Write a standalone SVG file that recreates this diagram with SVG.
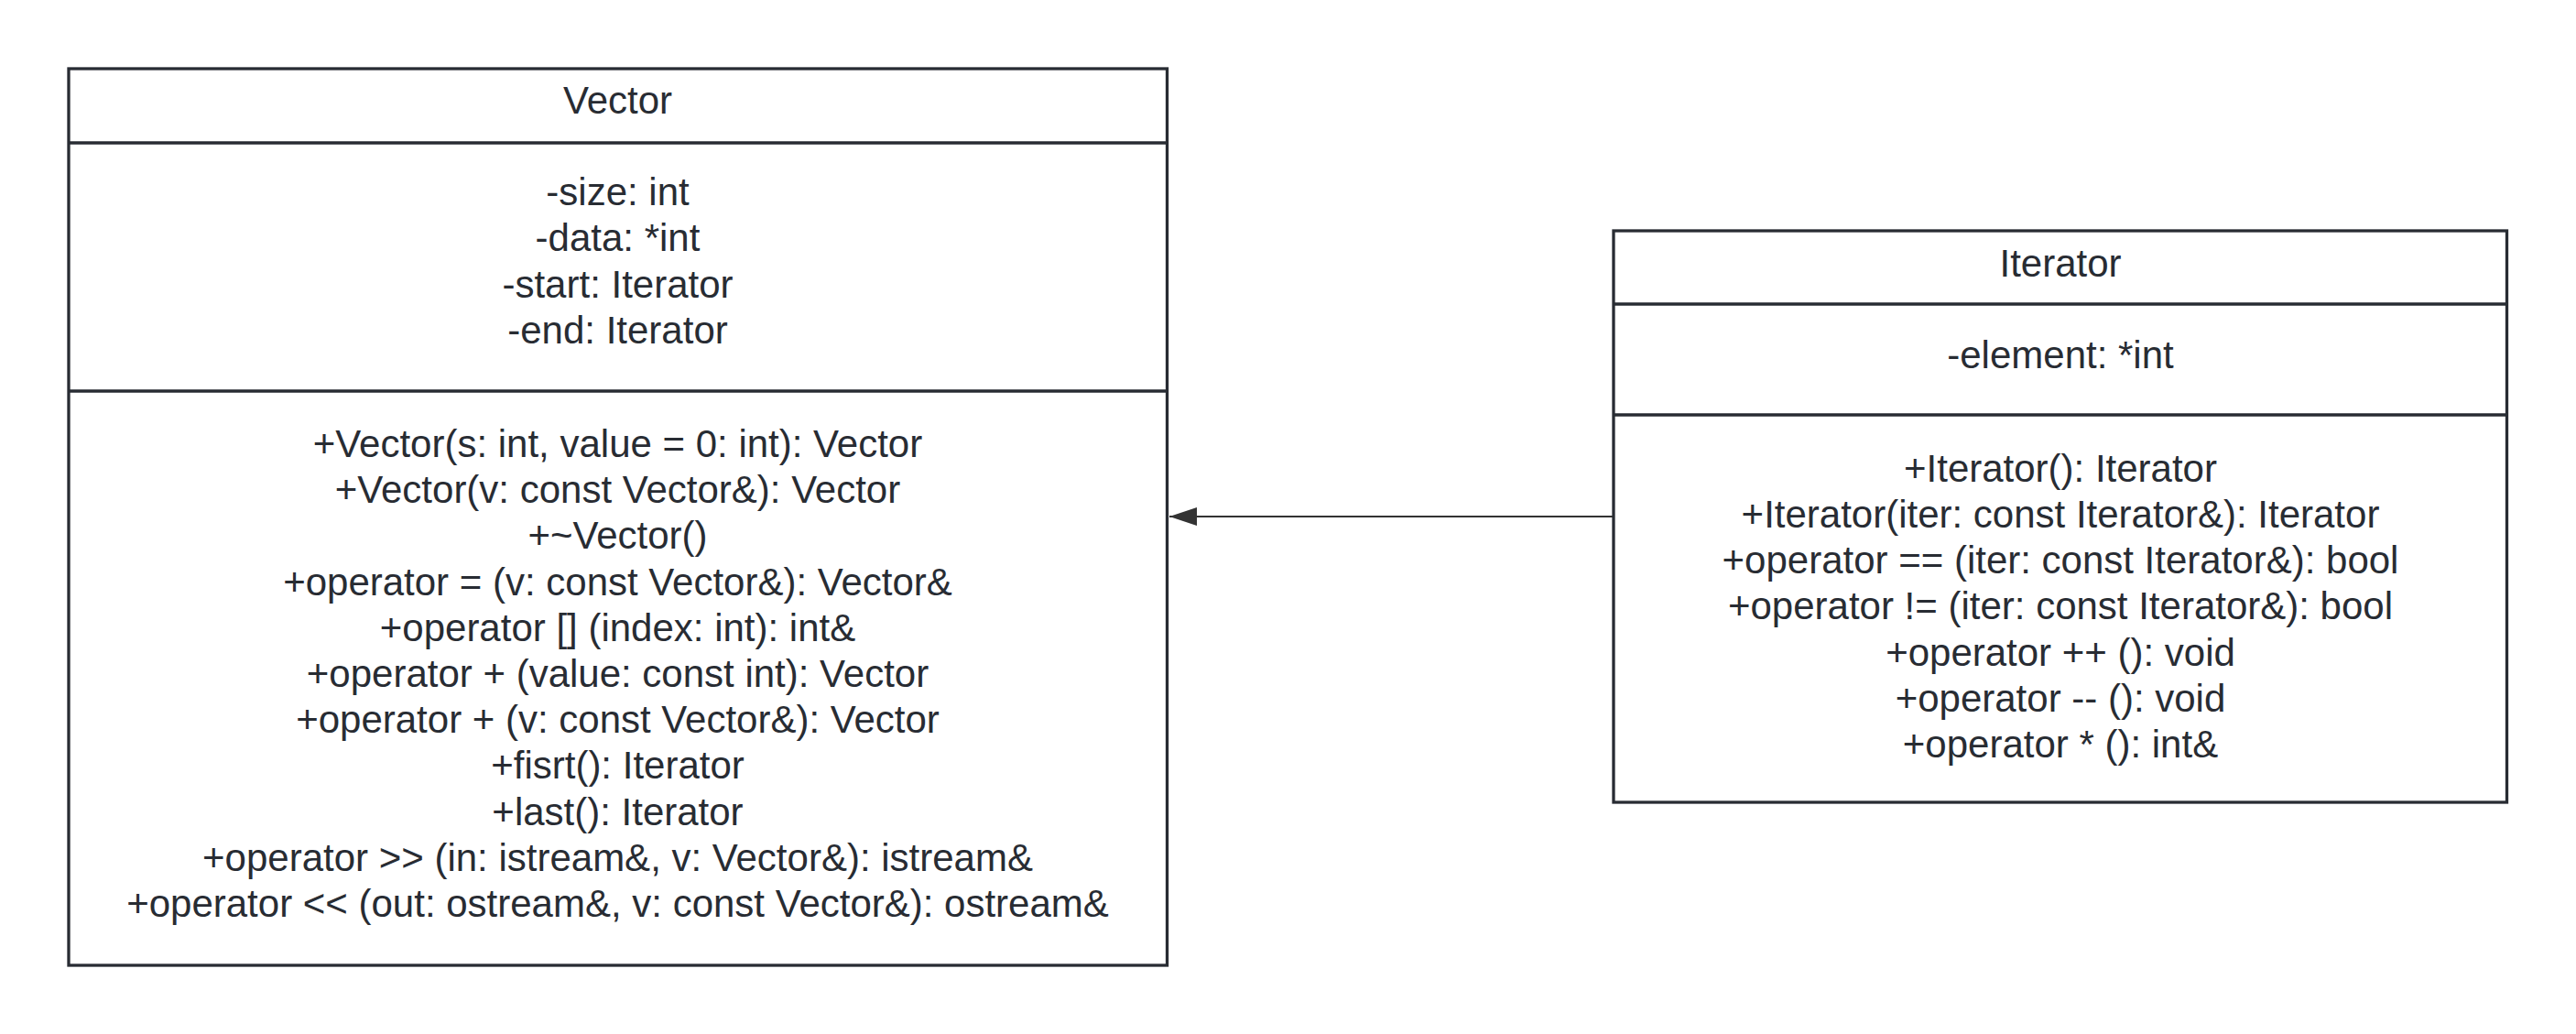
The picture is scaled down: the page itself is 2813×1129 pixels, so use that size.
<svg xmlns="http://www.w3.org/2000/svg" width="2813" height="1129" viewBox="0 0 2813 1129">
  <style>
    .box { fill: #ffffff; stroke: #282c33; stroke-width: 3.3; }
    .div { stroke: #282c33; stroke-width: 3.3; }
    .t { font-family: "Liberation Sans", Arial, sans-serif; font-size: 42px; fill: #282c33; text-anchor: middle; }
    .conn { stroke: #333333; stroke-width: 2; fill: none; }
  </style>
  <defs>
    <marker id="arrow" markerUnits="userSpaceOnUse" markerWidth="32" markerHeight="22" refX="30" refY="11" orient="auto">
      <path d="M0,1 L30,11 L0,21 Z" fill="#333333"/>
    </marker>
  </defs>
  <rect width="2813" height="1129" fill="#ffffff"/>
  <g id="connectors">
    <line class="conn" x1="1761" y1="564" x2="1277" y2="564" marker-end="url(#arrow)"/>
  </g>
  <g id="vector">
    <rect class="box" x="75" y="75" width="1199.5" height="979"/>
    <line class="div" x1="75" y1="156" x2="1274.5" y2="156"/>
    <line class="div" x1="75" y1="427" x2="1274.5" y2="427"/>
    <text class="t" x="674.5" y="124">Vector</text>
    <text class="t" x="674.5" y="224">-size: int</text>
    <text class="t" x="674.5" y="274.3">-data: *int</text>
    <text class="t" x="674.5" y="324.6">-start: Iterator</text>
    <text class="t" x="674.5" y="375">-end: Iterator</text>
    <text class="t" x="674.5" y="499">+Vector(s: int, value = 0: int): Vector</text>
    <text class="t" x="674.5" y="549.2">+Vector(v: const Vector&amp;): Vector</text>
    <text class="t" x="674.5" y="599.4">+~Vector()</text>
    <text class="t" x="674.5" y="649.6">+operator = (v: const Vector&amp;): Vector&amp;</text>
    <text class="t" x="674.5" y="699.8">+operator [] (index: int): int&amp;</text>
    <text class="t" x="674.5" y="750">+operator + (value: const int): Vector</text>
    <text class="t" x="674.5" y="800.2">+operator + (v: const Vector&amp;): Vector</text>
    <text class="t" x="674.5" y="850.4">+fisrt(): Iterator</text>
    <text class="t" x="674.5" y="900.6">+last(): Iterator</text>
    <text class="t" x="674.5" y="950.8">+operator &gt;&gt; (in: istream&amp;, v: Vector&amp;): istream&amp;</text>
    <text class="t" x="674.5" y="1001">+operator &lt;&lt; (out: ostream&amp;, v: const Vector&amp;): ostream&amp;</text>
  </g>
  <g id="iterator">
    <rect class="box" x="1762" y="252" width="975.5" height="624"/>
    <line class="div" x1="1762" y1="332" x2="2737.5" y2="332"/>
    <line class="div" x1="1762" y1="453" x2="2737.5" y2="453"/>
    <text class="t" x="2250" y="301.7">Iterator</text>
    <text class="t" x="2250" y="401.7">-element: *int</text>
    <text class="t" x="2250" y="525.5">+Iterator(): Iterator</text>
    <text class="t" x="2250" y="575.8">+Iterator(iter: const Iterator&amp;): Iterator</text>
    <text class="t" x="2250" y="626">+operator == (iter: const Iterator&amp;): bool</text>
    <text class="t" x="2250" y="676.3">+operator != (iter: const Iterator&amp;): bool</text>
    <text class="t" x="2250" y="726.5">+operator ++ (): void</text>
    <text class="t" x="2250" y="776.8">+operator -- (): void</text>
    <text class="t" x="2250" y="827">+operator * (): int&amp;</text>
  </g>
</svg>
